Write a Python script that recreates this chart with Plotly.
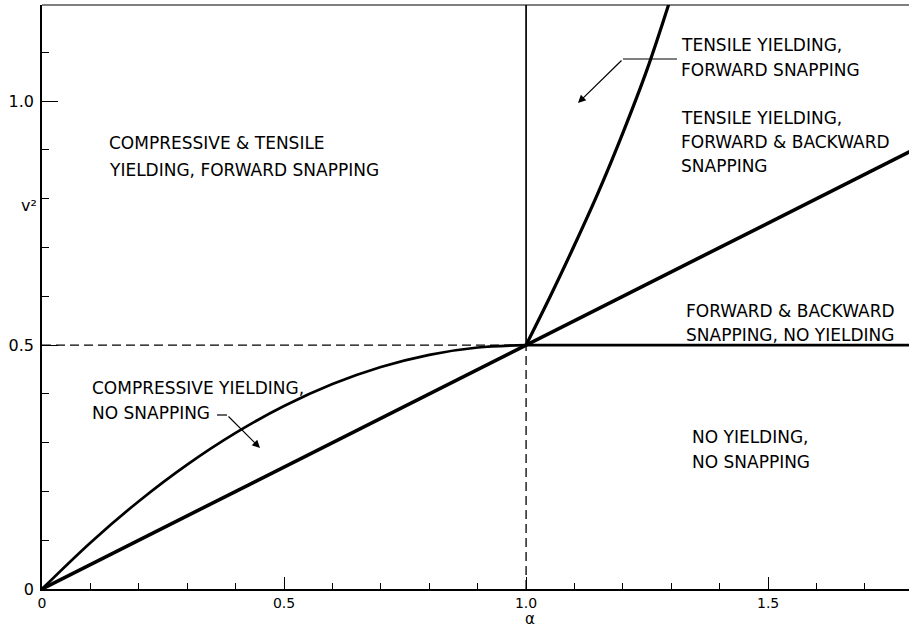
import plotly.graph_objects as go

# ---- data ----
alpha_comp = [0, 0.1, 0.2, 0.3, 0.4, 0.5, 0.6, 0.7, 0.8, 0.9, 1.0]
v2_comp = [0, 0.095, 0.18, 0.255, 0.32, 0.375, 0.42, 0.455, 0.48, 0.495, 0.5]

alpha_tens = [1.0, 1.05, 1.1, 1.15, 1.2, 1.25, 1.3]
v2_tens = [0.5, 0.6, 0.705, 0.815, 0.935, 1.065, 1.215]

alpha_lin = [0, 1.0, 1.8]
v2_lin = [0, 0.5, 0.9]

alpha_vert = [1.0, 1.0]
v2_vert = [0.5, 1.25]

alpha_hor = [1.0, 1.8]
v2_hor = [0.5, 0.5]

alpha_dash_h = [0, 1.0]
v2_dash_h = [0.5, 0.5]
alpha_dash_v = [1.0, 1.0]
v2_dash_v = [0, 0.5]

x_tickvals = [0, 0.5, 1.0, 1.5]
x_ticktext = ["0", "0.5", "1.0", "1.5"]
y_tickvals = [0, 0.5, 1.0]
y_ticktext = ["0", "0.5", "1.0"]

# ---- layout geometry ----
W, H = 909, 630
L, R, T, B = 42, 0, 5, 41
PW, PH = W - L - R, H - T - B
XMAX = 1.791
YMAX = 1.197


def P(px, py):
    """pixel -> paper coords"""
    return (px - L) / PW, (H - B - py) / PH


def D(px, py):
    """pixel -> data coords"""
    return (px - L) / PW * XMAX, (H - B - py) / PH * YMAX


FONT = "DejaVu Sans"
TSIZE = 17
fig = go.Figure()

def line(x, y, w, dash=None):
    fig.add_trace(go.Scatter(x=x, y=y, mode="lines",
                             line=dict(color="black", width=w, dash=dash,
                                       shape="spline" if len(x) > 3 else "linear"),
                             hoverinfo="skip", showlegend=False, cliponaxis=True))

line(alpha_dash_h, v2_dash_h, 1.3, "9px,5px")
line(alpha_dash_v, v2_dash_v, 1.3, "9px,5px")
line(alpha_comp, v2_comp, 2.7)
line(alpha_lin, v2_lin, 3.6)
line(alpha_tens, v2_tens, 3.2)
line(alpha_vert, v2_vert, 1.7)
line(alpha_hor, v2_hor, 2.8)

# arrow leader segments
a1 = [D(217, 415), D(227, 415)]
fig.add_trace(go.Scatter(x=[p[0] for p in a1], y=[p[1] for p in a1], mode="lines",
                         line=dict(color="black", width=1.2), hoverinfo="skip", showlegend=False))
a2 = [D(677, 59), D(623, 59)]
fig.add_trace(go.Scatter(x=[p[0] for p in a2], y=[p[1] for p in a2], mode="lines",
                         line=dict(color="black", width=1.2), hoverinfo="skip", showlegend=False))

annotations = []

def arrow(tail, head):
    hx, hy = D(*head)
    tx, ty = D(*tail)
    annotations.append(dict(x=hx, y=hy, ax=tx, ay=ty, xref="x", yref="y", axref="x", ayref="y",
                            showarrow=True, arrowhead=2, arrowsize=1.3, arrowwidth=1.2,
                            arrowcolor="black", text=""))

arrow((227, 415), (260, 448))
arrow((623, 59), (578, 103))

labels = [
    ("COMPRESSIVE & TENSILE", 107, 143),
    ("YIELDING, FORWARD SNAPPING", 107, 170),
    ("TENSILE YIELDING,", 679, 45),
    ("FORWARD SNAPPING", 679, 70),
    ("TENSILE YIELDING,", 679, 118),
    ("FORWARD & BACKWARD", 679, 142),
    ("SNAPPING", 679, 166),
    ("FORWARD & BACKWARD", 684, 311),
    ("SNAPPING, NO YIELDING", 684, 335),
    ("NO YIELDING,", 690, 437),
    ("NO SNAPPING", 690, 462),
    ("COMPRESSIVE YIELDING,", 90, 388),
    ("NO SNAPPING", 90, 413),
]
for text, px, py in labels:
    x, y = P(px, py)
    annotations.append(dict(x=x, y=y, xref="paper", yref="paper", text=text, showarrow=False,
                            xanchor="left", yanchor="middle",
                            font=dict(family=FONT, size=TSIZE, color="black")))

# axis titles
x, y = P(29, 205)
annotations.append(dict(x=x, y=y, xref="paper", yref="paper", text="v²", showarrow=False,
                        xanchor="center", yanchor="middle", font=dict(family=FONT, size=16, color="black")))
x, y = P(530, 630)
annotations.append(dict(x=x, y=y, xref="paper", yref="paper", text="α", showarrow=False,
                        xanchor="center", yanchor="bottom", font=dict(family=FONT, size=15, color="black")))

fig.update_layout(
    width=W, height=H,
    margin=dict(l=L, r=R, t=T, b=B, pad=0),
    paper_bgcolor="white", plot_bgcolor="white",
    annotations=annotations,
    shapes=[dict(type="line", xref="paper", yref="paper", x0=0, x1=1, y0=1, y1=1,
                 line=dict(color="black", width=1.2))],
    xaxis=dict(range=[0, XMAX], showgrid=False, zeroline=False, showline=True, linecolor="black",
               linewidth=1.5, ticks="inside", ticklen=12, tickwidth=1.2, tickcolor="black",
               tickvals=x_tickvals, ticktext=x_ticktext, ticklabelstandoff=0,
               tickfont=dict(family=FONT, size=14, color="black"),
               minor=dict(tickmode="linear", tick0=0, dtick=0.1, ticks="inside", ticklen=6,
                          tickwidth=1, tickcolor="black")),
    yaxis=dict(range=[0, YMAX], showgrid=False, zeroline=False, showline=True, linecolor="black",
               linewidth=1.5, ticks="inside", ticklen=16, tickwidth=1.2, tickcolor="black",
               tickvals=y_tickvals, ticktext=y_ticktext, ticklabelstandoff=3,
               tickfont=dict(family=FONT, size=16, color="black"),
               minor=dict(tickmode="linear", tick0=0, dtick=0.1, ticks="inside", ticklen=7,
                          tickwidth=1, tickcolor="black")),
)

fig.write_html("out.html", config={"displayModeBar": False},
               post_script="document.body.style.margin='0px';document.body.style.padding='0px';")
